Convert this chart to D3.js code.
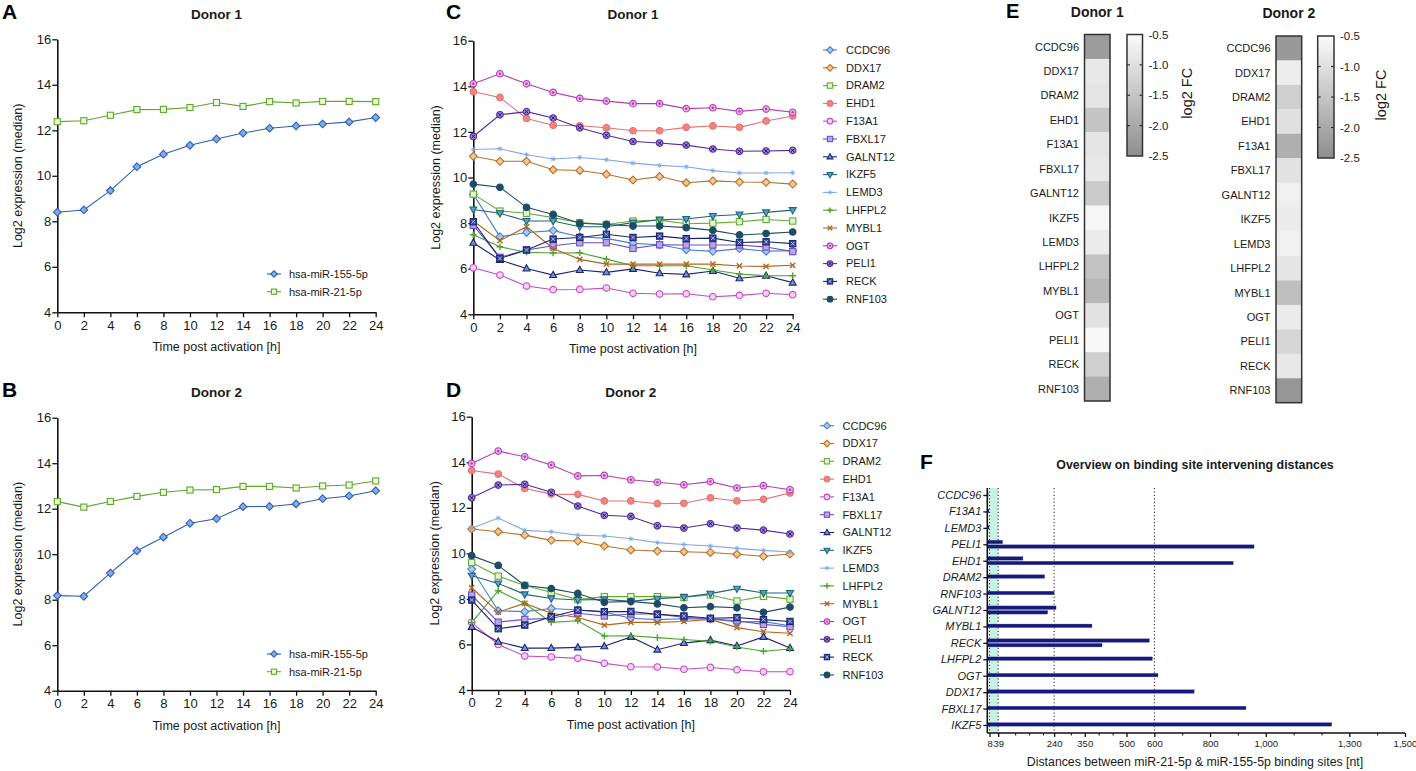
<!DOCTYPE html>
<html><head><meta charset="utf-8">
<script src="https://cdn.jsdelivr.net/npm/d3@7"></script>
<style>body{margin:0;background:#fff;} svg{display:block;font-family:"Liberation Sans",Arial,sans-serif;}</style>
</head><body><svg id="c" width="1416" height="771"></svg>
<script>
// ---------------- DATA ----------------
const hours = [0,2,4,6,8,10,12,14,16,18,20,22,24];
const yTicks = [4,6,8,10,12,14,16];
const mirNames = ["hsa-miR-155-5p","hsa-miR-21-5p"];
const mir155Donor1 = [8.40,8.50,9.35,10.40,10.95,11.34,11.62,11.88,12.09,12.19,12.28,12.37,12.56];
const mir21Donor1  = [12.38,12.42,12.66,12.91,12.92,13.00,13.22,13.05,13.26,13.20,13.27,13.27,13.26];
const mir155Donor2 = [8.18,8.15,9.17,10.15,10.75,11.36,11.56,12.09,12.10,12.21,12.44,12.56,12.79];
const mir21Donor2  = [12.31,12.07,12.32,12.54,12.72,12.82,12.84,12.98,12.98,12.91,13.00,13.04,13.22];

const genes = ["CCDC96","DDX17","DRAM2","EHD1","F13A1","FBXL17","GALNT12","IKZF5","LEMD3","LHFPL2","MYBL1","OGT","PELI1","RECK","RNF103"];
const geneExprDonor1 = [
  [9.27,7.40,7.59,7.67,7.40,7.33,7.11,7.05,6.83,6.76,6.88,6.77,6.79],
  [10.93,10.71,10.71,10.34,10.31,10.14,9.89,10.04,9.77,9.85,9.80,9.79,9.71],
  [9.27,8.53,8.43,8.24,8.02,7.94,8.09,8.13,7.97,8.00,8.06,8.16,8.09],
  [13.76,13.51,12.59,12.29,12.27,12.18,12.05,12.05,12.20,12.26,12.20,12.48,12.70],
  [6.04,5.72,5.24,5.08,5.09,5.15,4.92,4.89,4.90,4.77,4.83,4.92,4.86],
  [7.90,6.50,6.82,7.01,7.14,7.14,6.89,7.05,7.04,7.04,7.04,6.95,6.75],
  [7.14,6.38,6.01,5.72,5.94,5.84,5.99,5.80,5.75,5.90,5.58,5.69,5.39],
  [8.60,8.43,8.09,8.09,7.84,7.84,8.02,8.15,8.18,8.31,8.38,8.47,8.57],
  [11.23,11.26,11.00,10.81,10.88,10.78,10.63,10.53,10.47,10.30,10.20,10.20,10.21],
  [7.49,6.96,6.72,6.69,6.70,6.42,6.13,6.13,6.13,5.94,5.77,5.69,5.69],
  [8.09,7.23,7.84,6.89,6.41,6.20,6.20,6.20,6.20,6.20,6.12,6.10,6.15],
  [14.11,14.55,14.11,13.73,13.47,13.35,13.24,13.24,13.02,13.06,12.90,13.00,12.86],
  [11.80,12.75,12.89,12.61,12.18,11.85,11.58,11.51,11.42,11.25,11.15,11.16,11.19],
  [8.06,6.45,6.82,7.30,7.37,7.51,7.37,7.43,7.32,7.34,7.15,7.18,7.10],
  [9.71,9.57,8.69,8.38,7.99,7.94,7.87,7.87,7.80,7.68,7.48,7.54,7.61]
];
const geneExprDonor2 = [
  [9.31,7.48,7.44,7.58,7.51,7.42,7.15,7.09,7.13,7.12,6.99,7.00,6.82],
  [11.07,10.95,10.80,10.57,10.54,10.32,10.15,10.10,10.07,10.04,9.96,9.87,9.97],
  [9.60,9.00,8.59,8.29,7.97,8.10,8.10,8.10,8.07,8.17,7.91,8.11,7.99],
  [13.64,13.48,12.85,12.60,12.59,12.30,12.30,12.18,12.20,12.44,12.30,12.37,12.65],
  [6.96,6.00,5.49,5.45,5.39,5.17,5.02,5.01,4.91,4.99,4.89,4.80,4.80],
  [8.17,6.98,7.10,7.15,7.37,7.25,7.34,7.34,7.19,7.13,7.04,6.88,6.78],
  [6.77,6.12,5.84,5.84,5.87,5.92,6.33,5.77,6.06,6.19,5.93,6.33,5.84],
  [9.02,8.68,8.20,8.02,7.95,7.98,7.89,8.01,8.08,8.23,8.45,8.26,8.26],
  [11.10,11.55,11.01,10.95,10.80,10.76,10.64,10.47,10.39,10.32,10.22,10.13,10.06],
  [6.96,8.36,7.80,6.97,7.04,6.37,6.38,6.30,6.22,6.14,5.89,5.70,5.80],
  [8.49,7.42,7.80,7.37,7.18,6.85,6.97,6.97,7.01,7.10,6.74,6.56,6.49],
  [13.95,14.49,14.24,13.88,13.40,13.42,13.23,13.12,13.01,13.15,12.87,12.97,12.79],
  [12.44,13.00,13.03,12.68,12.08,11.67,11.62,11.21,11.11,11.30,11.11,11.02,10.85],
  [7.95,6.69,6.85,7.22,7.51,7.44,7.45,7.32,7.25,7.15,7.18,7.09,7.01],
  [9.90,9.47,8.59,8.45,8.24,7.85,7.89,7.78,7.61,7.66,7.61,7.41,7.64]
];

const fcDonor1 = [-2.25,-0.85,-0.9,-1.5,-0.9,-0.85,-1.4,-0.6,-0.8,-1.55,-1.75,-0.95,-0.55,-1.3,-1.9];
const fcDonor2 = [-2.3,-0.75,-1.3,-1.0,-1.9,-0.95,-0.7,-0.8,-0.7,-0.9,-1.6,-0.8,-1.2,-0.85,-2.35];
const fcTicks = [-0.5,-1.0,-1.5,-2.0,-2.5];

const distGenes = ["CCDC96","F13A1","LEMD3","PELI1","EHD1","DRAM2","RNF103","GALNT12","MYBL1","RECK","LHFPL2","OGT","DDX17","FBXL17","IKZF5"];
const distSite1 = [3,6,6,55,128,206,240,247,376,582,593,613,743,929,1237];
const distSite2 = [null,null,null,958,883,null,null,217,null,412,null,null,null,null,null];
const distTicks = [8,39,240,350,500,600,800,1000,1300,1500];
const distMinorTicks = [100,150,200,300,400,450,700,900,1100,1200,1400];
const distGuides = [8,39,240,600];
const distWindow = [8,39];

// ---------------- STYLES ----------------
const FONT = '"Liberation Sans",Arial,sans-serif';
const geneStyle = {
  CCDC96:{shape:"diamond",c:"#4a7fcc",f:"#a8c8ef"},
  DDX17:{shape:"diamond",c:"#b8702a",f:"#f3c98f"},
  DRAM2:{shape:"square",c:"#62ad32",f:"#e6f4d6"},
  EHD1:{shape:"circle",c:"#e5716e",f:"#ef8480"},
  F13A1:{shape:"circle",c:"#c24bc4",f:"#f6d0f5"},
  FBXL17:{shape:"square",c:"#6e50bf",f:"#b9a4e6"},
  GALNT12:{shape:"triUp",c:"#1c2476",f:"#7d8fd4"},
  IKZF5:{shape:"triDown",c:"#21627f",f:"#58a2c6"},
  LEMD3:{shape:"star",c:"#80a8e4",f:"none"},
  LHFPL2:{shape:"plus",c:"#4aa52a",f:"none"},
  MYBL1:{shape:"times",c:"#b2651f",f:"none"},
  OGT:{shape:"bullseye",c:"#b53bb5",f:"#eab4e9"},
  PELI1:{shape:"circleX",c:"#4f2a9c",f:"#9b84dc"},
  RECK:{shape:"squareX",c:"#1a2570",f:"#34449a"},
  RNF103:{shape:"circle",c:"#1e4c66",f:"#1e4c66"}
};
const mirStyle = [
  {shape:"diamond",c:"#2d5eb3",f:"#86aae6"},
  {shape:"square",c:"#5fa82a",f:"#eef7e0"}
];

const svg = d3.select("#c");

function drawMarker(g, st, x, y, r) {
  r = r || 3.3;
  const m = g.append("g").attr("transform", `translate(${x},${y})`);
  const sw = 1.1;
  const s = st.shape;
  if (s === "circle" || s === "bullseye" || s === "circleX") {
    m.append("circle").attr("r", r).attr("fill", st.f).attr("stroke", st.c).attr("stroke-width", sw);
    if (s === "bullseye") m.append("circle").attr("r", r*0.38).attr("fill", st.c);
    if (s === "circleX") { const q=r*0.55; m.append("path").attr("d",`M${-q},${-q}L${q},${q}M${q},${-q}L${-q},${q}`).attr("stroke","#2a1260").attr("stroke-width",1); }
  } else if (s === "square" || s === "squareX") {
    const h = r*0.95;
    m.append("rect").attr("x",-h).attr("y",-h).attr("width",2*h).attr("height",2*h).attr("fill",st.f).attr("stroke",st.c).attr("stroke-width",sw);
    if (s === "squareX") { const q=h*0.6; m.append("path").attr("d",`M${-q},${-q}L${q},${q}M${q},${-q}L${-q},${q}`).attr("stroke","#b8c2ec").attr("stroke-width",0.9); }
  } else if (s === "diamond") {
    const d = r*1.2;
    m.append("path").attr("d",`M0,${-d}L${d},0L0,${d}L${-d},0Z`).attr("fill",st.f).attr("stroke",st.c).attr("stroke-width",sw);
  } else if (s === "triUp" || s === "triDown") {
    const k = s === "triUp" ? 1 : -1;
    m.append("path").attr("d",`M0,${-r*1.15*k}L${r*1.05},${r*0.75*k}L${-r*1.05},${r*0.75*k}Z`).attr("fill",st.f).attr("stroke",st.c).attr("stroke-width",sw);
  } else if (s === "plus") {
    m.append("path").attr("d",`M${-r},0H${r}M0,${-r}V${r}`).attr("stroke",st.c).attr("stroke-width",1.4);
  } else if (s === "times") {
    const q=r*0.8;
    m.append("path").attr("d",`M${-q},${-q}L${q},${q}M${q},${-q}L${-q},${q}`).attr("stroke",st.c).attr("stroke-width",1.4);
  } else if (s === "star") {
    const q=r*0.75, p=r*0.55;
    m.append("path").attr("d",`M${-q},0H${q}M0,${-q}V${q}M${-p},${-p}L${p},${p}M${p},${-p}L${-p},${p}`).attr("stroke",st.c).attr("stroke-width",0.9);
  }
}

function styleAxis(g, fs) {
  g.select(".domain").attr("stroke","#111").attr("stroke-width",1.6);
  g.selectAll(".tick line").attr("stroke","#111").attr("stroke-width",1.3);
  g.selectAll(".tick text").attr("fill","#1a1a1a").style("font-size",fs+"px").style("font-family",FONT);
}

function text(x, y, t, opt) {
  opt = opt || {};
  const el = svg.append("text").attr("x",x).attr("y",y).text(t)
    .attr("text-anchor", opt.anchor || "middle")
    .attr("fill", opt.fill || "#1a1a1a")
    .style("font-size", (opt.size||12)+"px")
    .style("font-family", FONT)
    .style("font-weight", opt.bold ? "bold" : "normal")
    .style("font-style", opt.italic ? "italic" : "normal");
  if (opt.rotate) el.attr("transform", `rotate(${opt.rotate},${x},${y})`);
  if (opt.dy) el.attr("dy", opt.dy);
  return el;
}

function linePanel(cfg) {
  const x = d3.scaleLinear().domain([0,24]).range([cfg.x0, cfg.x1]);
  const y = d3.scaleLinear().domain([4,16]).range([cfg.y1, cfg.y0]);
  const gx = svg.append("g").attr("transform",`translate(0,${cfg.y1})`)
    .call(d3.axisBottom(x).tickValues(hours).tickSize(5).tickPadding(3).tickSizeOuter(0));
  styleAxis(gx, 13);
  const gy = svg.append("g").attr("transform",`translate(${cfg.x0},0)`)
    .call(d3.axisLeft(y).tickValues(yTicks).tickSize(5).tickPadding(1).tickSizeOuter(0));
  styleAxis(gy, 13);
  const line = d3.line().x((d,i)=>x(hours[i])).y(d=>y(d));
  cfg.series.forEach(s => {
    svg.append("path").attr("d", line(s.values)).attr("fill","none").attr("stroke", s.style.c).attr("stroke-width",1.1);
  });
  cfg.series.forEach(s => {
    const g = svg.append("g");
    s.values.forEach((v,i) => drawMarker(g, s.style, x(hours[i]), y(v), cfg.r));
  });
  const cx = (cfg.x0+cfg.x1)/2;
  text(cx, cfg.y1+39, "Time post activation [h]", {size:12.5});
  text(cfg.ylx, (cfg.y0+cfg.y1)/2, "Log2 expression (median)", {size:12.5, rotate:-90});
  text(cx, cfg.titleY, cfg.title, {size:13.5, bold:true});
  text(cfg.letterX, cfg.letterY, cfg.letter, {size:21, bold:true, anchor:"start", fill:"#000"});
  // legend
  cfg.series.forEach((s,i) => {
    const ly = cfg.legY + i*cfg.legStep;
    svg.append("line").attr("x1",cfg.legX).attr("x2",cfg.legX+14).attr("y1",ly).attr("y2",ly).attr("stroke",s.style.c).attr("stroke-width",1.1);
    drawMarker(svg.append("g"), s.style, cfg.legX+7, ly, cfg.r*0.85);
    text(cfg.legX+cfg.legText, ly, s.name, {size:11, anchor:"start", dy:"0.35em"});
  });
}

// Panel A
linePanel({x0:57.3,x1:375.7,y0:39.3,y1:312.3,ylx:22,titleY:19,title:"Donor 1",letter:"A",letterX:2,letterY:19,
  r:3.2,legX:267,legY:274,legStep:17.7,legText:22,
  series:[{name:mirNames[0],values:mir155Donor1,style:mirStyle[0]},{name:mirNames[1],values:mir21Donor1,style:mirStyle[1]}]});
// Panel B
linePanel({x0:57.3,x1:375.7,y0:417.7,y1:690.7,ylx:22,titleY:397,title:"Donor 2",letter:"B",letterX:2,letterY:397,
  r:3.2,legX:267,legY:654,legStep:17.7,legText:22,
  series:[{name:mirNames[0],values:mir155Donor2,style:mirStyle[0]},{name:mirNames[1],values:mir21Donor2,style:mirStyle[1]}]});
// Panel C
linePanel({x0:473.3,x1:792.7,y0:40.7,y1:314.3,ylx:440,titleY:19,title:"Donor 1",letter:"C",letterX:446,letterY:19,
  r:3.3,legX:823,legY:50,legStep:17.8,legText:23,
  series:genes.map((g,i)=>({name:g,values:geneExprDonor1[i],style:geneStyle[g]}))});
// Panel D
linePanel({x0:471.7,x1:790,y0:416.7,y1:690,ylx:439,titleY:397,title:"Donor 2",letter:"D",letterX:446,letterY:397,
  r:3.3,legX:820,legY:425.7,legStep:17.8,legText:22.5,
  series:genes.map((g,i)=>({name:g,values:geneExprDonor2[i],style:geneStyle[g]}))});

// ---------------- Panel E ----------------
const fcColor = d3.scaleLinear().domain([-2.5,-0.5]).range(["#8e8e8e","#fbfbfb"]);
const defs = svg.append("defs");
const grad = defs.append("linearGradient").attr("id","fcgrad").attr("x1",0).attr("x2",0).attr("y1",0).attr("y2",1);
grad.append("stop").attr("offset","0%").attr("stop-color",fcColor(-0.5));
grad.append("stop").attr("offset","100%").attr("stop-color",fcColor(-2.5));

function heatmap(cfg) {
  const y = d3.scaleBand().domain(genes).range([cfg.top, cfg.bottom]);
  const g = svg.append("g");
  genes.forEach((gn,i) => {
    g.append("rect").attr("x",cfg.x0).attr("y",y(gn)).attr("width",cfg.x1-cfg.x0).attr("height",y.bandwidth()+0.3)
      .attr("fill", fcColor(cfg.values[i]));
    text(cfg.labelX, y(gn)+y.bandwidth()/2, gn, {size:11, anchor:"end", dy:"0.35em"});
  });
  g.append("rect").attr("x",cfg.x0).attr("y",cfg.top).attr("width",cfg.x1-cfg.x0).attr("height",cfg.bottom-cfg.top)
    .attr("fill","none").attr("stroke","#333").attr("stroke-width",1.5);
  text((cfg.x0+cfg.x1)/2, cfg.titleY, cfg.title, {size:14, bold:true});
  // colour bar
  const cy = d3.scaleLinear().domain([-0.5,-2.5]).range([cfg.cbTop, cfg.cbBottom]);
  svg.append("rect").attr("x",cfg.cbX0).attr("y",cfg.cbTop).attr("width",cfg.cbX1-cfg.cbX0).attr("height",cfg.cbBottom-cfg.cbTop)
    .attr("fill","url(#fcgrad)").attr("stroke","#333").attr("stroke-width",1.5);
  fcTicks.forEach(t => {
    if (t !== -0.5 && t !== -2.5) {
      svg.append("line").attr("x1",cfg.cbX0).attr("x2",cfg.cbX0+3).attr("y1",cy(t)).attr("y2",cy(t)).attr("stroke","#333").attr("stroke-width",1.2);
      svg.append("line").attr("x1",cfg.cbX1-3).attr("x2",cfg.cbX1).attr("y1",cy(t)).attr("y2",cy(t)).attr("stroke","#333").attr("stroke-width",1.2);
    }
    text(cfg.cbX1+6, cy(t), d3.format(".1f")(t).replace("−","-"), {size:11.5, anchor:"start", dy:"0.35em"});
  });
  text(cfg.cbLabelX, (cfg.cbTop+cfg.cbBottom)/2 - 2, "log2 FC", {size:14.5, rotate:-90, dy:"0.35em"});
}
heatmap({x0:1084.5,x1:1110,top:34.5,bottom:401,labelX:1079,values:fcDonor1,title:"Donor 1",titleY:17,
  cbX0:1127,cbX1:1142.5,cbTop:34.5,cbBottom:156,cbLabelX:1187});
heatmap({x0:1276,x1:1301.7,top:36,bottom:402.7,labelX:1270.5,values:fcDonor2,title:"Donor 2",titleY:18,
  cbX0:1317.7,cbX1:1334,cbTop:36,cbBottom:158,cbLabelX:1381});
text(1006, 18, "E", {size:20, bold:true, anchor:"start", fill:"#000"});

// ---------------- Panel F ----------------
(function(){
  const x = d3.scaleLinear().domain([0,1500]).range([987.3,1405]);
  const y = d3.scalePoint().domain(distGenes).range([495,725]);
  const top = 488, bottom = 733;
  svg.append("rect").attr("x",x(distWindow[0])).attr("y",top).attr("width",x(distWindow[1])-x(distWindow[0])).attr("height",bottom-top)
    .attr("fill","#c6f2e3");
  distGuides.forEach(v => {
    svg.append("line").attr("x1",x(v)).attr("x2",x(v)).attr("y1",top).attr("y2",bottom)
      .attr("stroke","#222").attr("stroke-width",1).attr("stroke-dasharray","1.2,2.2");
  });
  const bh = 3.6;
  distGenes.forEach((gn,i) => {
    const two = distSite2[i] != null;
    const c = y(gn);
    const off1 = two ? -2.3 : -0.6;
    svg.append("rect").attr("x",x(0)).attr("y",c+off1-bh/2).attr("width",x(distSite1[i])-x(0)).attr("height",bh)
      .attr("fill","#16197c").attr("stroke","#5a5fb0").attr("stroke-width",0.3);
    if (two) {
      svg.append("rect").attr("x",x(0)).attr("y",c+2.3-bh/2).attr("width",x(distSite2[i])-x(0)).attr("height",bh)
        .attr("fill","#16197c").attr("stroke","#5a5fb0").attr("stroke-width",0.3);
    }
  });
  const gy = svg.append("g").attr("transform",`translate(${x(0)},0)`)
    .call(d3.axisLeft(y).tickSize(4).tickPadding(2).tickSizeOuter(0));
  gy.select(".domain").attr("d",`M0,${top}V${bottom}`);
  styleAxis(gy, 11);
  gy.selectAll(".tick text").style("font-style","italic");
  const gxm = svg.append("g").attr("transform",`translate(0,${bottom})`)
    .call(d3.axisBottom(x).tickValues(distMinorTicks).tickSize(2.5).tickFormat(""));
  gxm.select(".domain").remove();
  gxm.selectAll(".tick line").attr("stroke","#111").attr("stroke-width",1);
  const gx = svg.append("g").attr("transform",`translate(0,${bottom})`)
    .call(d3.axisBottom(x).tickValues(distTicks).tickSize(4).tickPadding(3).tickSizeOuter(0).tickFormat(d3.format(",")));
  gx.select(".domain").attr("d",`M${x(0)},0H${x(1500)}`);
  styleAxis(gx, 9.5);
  text(1195, 469, "Overview on binding site intervening distances", {size:12.4, bold:true});
  text(1195, 766, "Distances between miR-21-5p & miR-155-5p binding sites [nt]", {size:12.3});
  text(920, 469, "F", {size:21, bold:true, anchor:"start", fill:"#000"});
})();
</script></body></html>
